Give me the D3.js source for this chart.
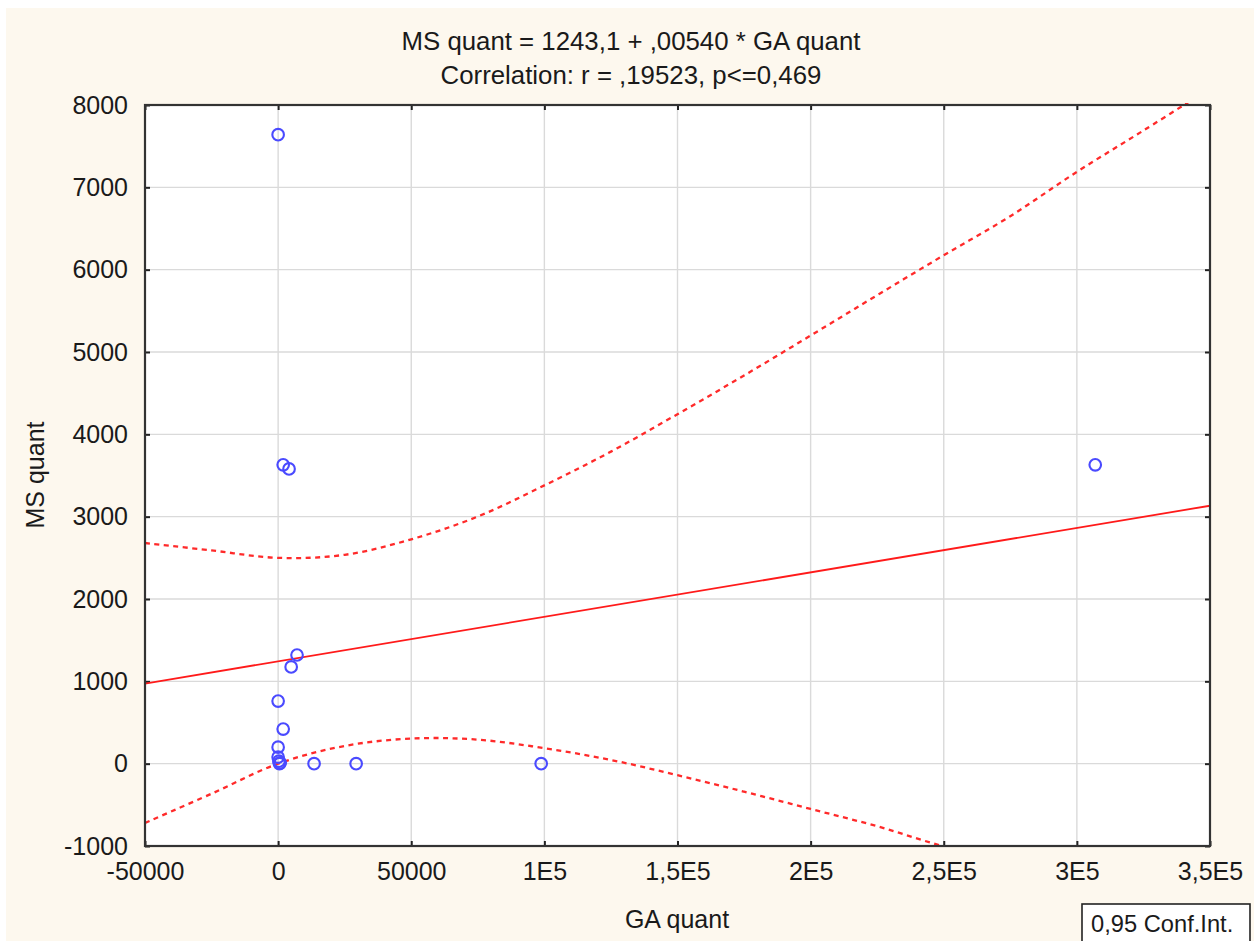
<!DOCTYPE html>
<html>
<head>
<meta charset="utf-8">
<script src="https://cdn.jsdelivr.net/npm/d3@7"></script>
<style>
  body { margin: 0; background: #ffffff; }
  text { font-family: "Liberation Sans", Arial, sans-serif; fill: #1a1a1a; }
</style>
</head>
<body>
<script>
// scatter values
const gaQuant = [0, 1900, 4100, 306900, 7100, 4900, 0, 1900, 0, 0, 300, 800, 500, 13500, 29300, 98800]
const msQuant = [7640, 3630, 3580, 3630, 1320, 1175, 760, 420, 200, 80, 30, 10, 0, 0, 0, 0]

// regression line ends
const fitX = [-50000, 350000]
const fitY = [973, 3133]

// 0,95 confidence band, read at every 25000
const bandX = [-50000, -25000, 0, 25000, 50000, 75000, 100000, 125000, 150000, 175000, 200000, 225000, 250000, 275000, 300000, 325000, 350000]
const bandUpper = [2680, 2590, 2500, 2537, 2725, 3002, 3380, 3790, 4245, 4715, 5200, 5690, 6175, 6650, 7188, 7690, 8200]
const bandLower = [-720, -365, 0, 215, 305, 292, 188, 45, -140, -340, -550, -760, -1005, -1195, -1465, -1695, -1925]

const xTicks = [-50000, 0, 50000, 100000, 150000, 200000, 250000, 300000, 350000]
const xTickLabels = ['-50000', '0', '50000', '1E5', '1,5E5', '2E5', '2,5E5', '3E5', '3,5E5']
const yTicks = [-1000, 0, 1000, 2000, 3000, 4000, 5000, 6000, 7000, 8000]

const titleLines = ['MS quant = 1243,1 + ,00540 * GA quant', 'Correlation: r = ,19523, p<=0,469']

const width = 1254
const height = 941
const plotLeft = 145, plotRight = 1210, plotTop = 105, plotBottom = 846
const fontSize = 25

let svg = d3.select('body').append('svg')
    .attr('width', width)
    .attr('height', height)

// cream panel
svg.append('rect')
    .attr('x', 6).attr('y', 8)
    .attr('width', width - 6).attr('height', height - 8)
    .attr('fill', '#fdf8ee')

let xScale = d3.scaleLinear().domain([-50000, 350000]).range([plotLeft, plotRight])
let yScale = d3.scaleLinear().domain([-1000, 8000]).range([plotBottom, plotTop])

svg.append('rect')
    .attr('x', plotLeft).attr('y', plotTop)
    .attr('width', plotRight - plotLeft).attr('height', plotBottom - plotTop)
    .attr('fill', '#ffffff')

svg.append('clipPath').attr('id', 'plotClip')
    .append('rect')
    .attr('x', plotLeft).attr('y', plotTop - 2)
    .attr('width', plotRight - plotLeft).attr('height', plotBottom - plotTop + 2)

// grid
let grid = svg.append('g').attr('stroke', '#dadada').attr('stroke-width', 1.4)
grid.selectAll('.gx').data(xTicks.slice(1, -1)).enter().append('line')
    .attr('x1', d => xScale(d)).attr('x2', d => xScale(d))
    .attr('y1', plotTop).attr('y2', plotBottom)
grid.selectAll('.gy').data(yTicks.slice(1, -1)).enter().append('line')
    .attr('x1', plotLeft).attr('x2', plotRight)
    .attr('y1', d => yScale(d)).attr('y2', d => yScale(d))

// axes with inward ticks, labels drawn by d3
let xAxis = d3.axisBottom(xScale).tickValues(xTicks)
    .tickFormat((d, i) => xTickLabels[i]).tickSizeInner(-5).tickSizeOuter(0).tickPadding(16)
let yAxis = d3.axisLeft(yScale).tickValues(yTicks)
    .tickFormat(d => String(d)).tickSizeInner(-5).tickSizeOuter(0).tickPadding(17)

let gx = svg.append('g').attr('transform', 'translate(0,' + plotBottom + ')').call(xAxis)
let gy = svg.append('g').attr('transform', 'translate(' + plotLeft + ',0)').call(yAxis)
svg.append('g').attr('transform', 'translate(0,' + plotTop + ')')
    .call(d3.axisTop(xScale).tickValues(xTicks).tickSizeInner(-5).tickSizeOuter(0).tickFormat(''))
svg.append('g').attr('transform', 'translate(' + plotRight + ',0)')
    .call(d3.axisRight(yScale).tickValues(yTicks).tickSizeInner(-5).tickSizeOuter(0).tickFormat(''))

svg.selectAll('.domain').remove()
svg.selectAll('.tick line').attr('stroke', '#222').attr('stroke-width', 2)
svg.selectAll('.tick text').attr('font-size', fontSize)
    .attr('font-family', '"Liberation Sans", Arial, sans-serif').attr('fill', '#1a1a1a')

let plot = svg.append('g').attr('clip-path', 'url(#plotClip)')

// confidence bands
let bandLine = d3.line().curve(d3.curveCatmullRom)
    .x(d => xScale(d[0])).y(d => yScale(d[1]))
plot.append('path')
    .datum(bandX.map((x, i) => [x, bandUpper[i]]))
    .attr('d', bandLine)
    .attr('fill', 'none').attr('stroke', '#ff2a2a')
    .attr('stroke-width', 2.3).attr('stroke-dasharray', '5,4.5')
plot.append('path')
    .datum(bandX.map((x, i) => [x, bandLower[i]]))
    .attr('d', bandLine)
    .attr('fill', 'none').attr('stroke', '#ff2a2a')
    .attr('stroke-width', 2.3).attr('stroke-dasharray', '5,4.5')

// regression line
plot.append('path')
    .datum(fitX.map((x, i) => [x, fitY[i]]))
    .attr('d', d3.line().x(d => xScale(d[0])).y(d => yScale(d[1])))
    .attr('fill', 'none').attr('stroke', '#ff1a1a').attr('stroke-width', 1.8)

// points
plot.selectAll('.pt').data(gaQuant).enter().append('circle')
    .attr('cx', d => xScale(d))
    .attr('cy', (d, i) => yScale(msQuant[i]))
    .attr('r', 5.8)
    .attr('fill', 'none')
    .attr('stroke', '#4a4aff')
    .attr('stroke-width', 2.1)

// frame
svg.append('rect')
    .attr('x', plotLeft).attr('y', plotTop)
    .attr('width', plotRight - plotLeft).attr('height', plotBottom - plotTop)
    .attr('fill', 'none').attr('stroke', '#333').attr('stroke-width', 2.2)

// titles
svg.selectAll('.title').data(titleLines).enter().append('text')
    .attr('x', 631).attr('y', (d, i) => 50 + i * 34)
    .attr('text-anchor', 'middle').attr('font-size', 25.8)
    .text(d => d)

svg.append('text')
    .attr('x', 677).attr('y', 928)
    .attr('text-anchor', 'middle').attr('font-size', fontSize)
    .text('GA quant')

svg.append('text')
    .attr('transform', 'translate(44,475) rotate(-90)')
    .attr('text-anchor', 'middle').attr('font-size', fontSize)
    .text('MS quant')

// legend box
svg.append('rect')
    .attr('x', 1082).attr('y', 904)
    .attr('width', 168).attr('height', 40)
    .attr('fill', '#ffffff').attr('stroke', '#222').attr('stroke-width', 1.6)
svg.append('text')
    .attr('x', 1091).attr('y', 932)
    .attr('font-size', 23.7)
    .text('0,95 Conf.Int.')
</script>
</body>
</html>
